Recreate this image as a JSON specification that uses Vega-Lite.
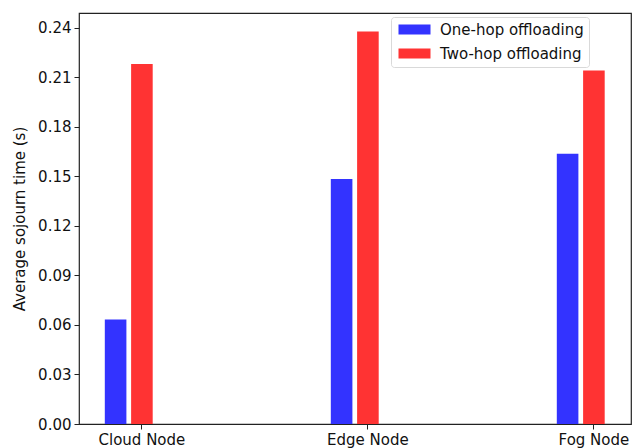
{
  "$schema": "https://vega.github.io/schema/vega-lite/v6.json",
  "autosize": "none",
  "width": 552,
  "height": 411,
  "padding": {"left": 79, "top": 13, "right": 1, "bottom": 24},
  "background": "white",
  "config": {
    "font": "DejaVu Sans",
    "view": {"stroke": "#222", "strokeWidth": 1.2},
    "axis": {
      "labelFont": "DejaVu Sans",
      "titleFont": "DejaVu Sans",
      "labelFontSize": 15,
      "titleFontSize": 15,
      "titleFontWeight": "normal",
      "labelColor": "#111",
      "titleColor": "#111",
      "domainColor": "#222",
      "tickColor": "#222",
      "tickSize": 5,
      "grid": false
    },
    "legend": {
      "labelFont": "DejaVu Sans",
      "labelFontSize": 15,
      "labelColor": "#111"
    }
  },
  "data": {
    "values": [
      {"node": "Cloud Node", "scheme": "One-hop offloading", "time": 0.0633},
      {"node": "Cloud Node", "scheme": "Two-hop offloading", "time": 0.2181},
      {"node": "Edge Node", "scheme": "One-hop offloading", "time": 0.1485},
      {"node": "Edge Node", "scheme": "Two-hop offloading", "time": 0.2378},
      {"node": "Fog Node", "scheme": "One-hop offloading", "time": 0.1637},
      {"node": "Fog Node", "scheme": "Two-hop offloading", "time": 0.2141}
    ]
  },
  "mark": {"type": "bar", "opacity": 1},
  "encoding": {
    "x": {
      "field": "node",
      "type": "nominal",
      "sort": ["Cloud Node", "Edge Node", "Fog Node"],
      "scale": {"paddingInner": 0.6717, "paddingOuter": 0.0571, "align": 1},
      "axis": {"title": null, "labelAngle": 0, "labelPadding": 3, "domain": false}
    },
    "xOffset": {
      "field": "scheme",
      "type": "nominal",
      "scale": {
        "domain": ["One-hop offloading", "Two-hop offloading", "pad"],
        "paddingInner": 0.179,
        "paddingOuter": 0
      }
    },
    "y": {
      "field": "time",
      "type": "quantitative",
      "scale": {"domain": [0, 0.249], "nice": false, "zero": true},
      "axis": {
        "title": "Average sojourn time (s)",
        "values": [0, 0.03, 0.06, 0.09, 0.12, 0.15, 0.18, 0.21, 0.24],
        "format": ".2f",
        "labelPadding": 3,
        "titlePadding": 10,
        "domain": false
      }
    },
    "color": {
      "field": "scheme",
      "type": "nominal",
      "scale": {
        "domain": ["One-hop offloading", "Two-hop offloading"],
        "range": ["#3333ff", "#ff3333"]
      },
      "legend": {
        "title": null,
        "orient": "none",
        "legendX": 312,
        "legendY": 4,
        "padding": 5,
        "fillColor": "white",
        "strokeColor": "#d9d9d9",
        "cornerRadius": 3,
        "symbolType": "M-3.2,-1H3.2V1H-3.2Z",
        "symbolSize": 100,
        "symbolStrokeWidth": 0,
        "symbolOpacity": 1,
        "symbolOffset": 11,
        "labelOffset": 18,
        "rowPadding": 8
      }
    }
  }
}
